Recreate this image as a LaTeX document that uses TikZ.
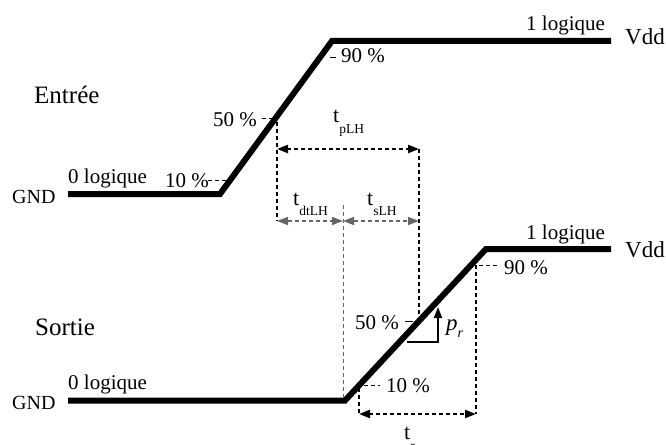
\documentclass[tikz,border=0pt]{standalone}
\usepackage{fontspec}
\setmainfont{Liberation Serif}
\usetikzlibrary{arrows.meta}
\begin{document}
\begin{tikzpicture}[x=1pt,y=-1pt,
  sig/.style={line width=6pt,line join=miter},
  lab/.style={inner sep=0pt,anchor=base west,font=\fontsize{21}{21}\selectfont},
  big/.style={inner sep=0pt,anchor=base west,font=\fontsize{25}{25}\selectfont},
  thin/.style={line width=1pt,dash pattern=on 4pt off 3pt},
  graythin/.style={line width=1pt,dash pattern=on 4pt off 3pt,draw=black!60},
  dots/.style={line width=2.2pt,dash pattern=on 4pt off 3pt},
  tip/.style={-{Triangle[length=11pt,width=8pt]}},
  tips/.style={{Triangle[length=11pt,width=8pt]}-{Triangle[length=11pt,width=8pt]}}]
\useasboundingbox (0,0) rectangle (666,444);
% input signal
\coordinate (i0) at (68,194);
\coordinate (i1) at (220,194);
\coordinate (i2) at (332,41);
\coordinate (i3) at (611,41);
\draw[sig] (i0) -- (i1) -- (i2) -- (i3);
% output signal
\coordinate (o0) at (68,400.5);
\coordinate (o1) at (345,400.5);
\coordinate (o2) at (486,249);
\coordinate (o3) at (611,249);
\draw[sig] (o0) -- (o1) -- (o2) -- (o3);
% labels
\node[big] (entree) at (34,103) {Entrée};
\node[big] (sortie) at (35,335) {Sortie};
\node[lab,font=\fontsize{20}{20}\selectfont] (gnd1) at (12,203) {GND};
\node[lab,font=\fontsize{20}{20}\selectfont] (gnd2) at (12,409) {GND};
\node[lab,font=\fontsize{23}{23}\selectfont] (vdd1) at (625,45) {Vdd};
\node[lab,font=\fontsize{23}{23}\selectfont] (vdd2) at (625,257) {Vdd};
\node[lab] (zero1) at (68,183) {0 logique};
\node[lab] (zero2) at (68,389) {0 logique};
\node[lab] (one1) at (526,31) {1 logique};
\node[lab] (one2) at (526,239) {1 logique};
\node[lab] (p10i) at (165,187) {10 \%};
\node[lab] (p50i) at (213,126) {50 \%};
\node[lab] (p90i) at (341,63) {90 \%};
\node[lab] (p50o) at (355,329) {50 \%};
\node[lab] (p10o) at (386,392) {10 \%};
\node[lab] (p90o) at (504,274) {90 \%};
% ticks
\coordinate (t10a) at (208,180); \coordinate (t10b) at (228,180);
\draw[thin] (t10a) -- (t10b);
\coordinate (t50a) at (262,118); \coordinate (t50b) at (274,118);
\draw[thin] (t50a) -- (t50b);
\coordinate (t90a) at (330,58); \coordinate (t90b) at (336,58);
\draw[line width=1pt] (t90a) -- (t90b);
\coordinate (u50a) at (405,321); \coordinate (u50b) at (413,321);
\draw[line width=1pt] (u50a) -- (u50b);
\coordinate (u10a) at (364,385); \coordinate (u10b) at (380,385);
\draw[thin] (u10a) -- (u10b);
\coordinate (u90a) at (479,265); \coordinate (u90b) at (499,265);
\draw[thin] (u90a) -- (u90b);
% timing construction
\coordinate (a50) at (277,122);
\coordinate (aT) at (277,149);
\coordinate (aB) at (277,221);
\coordinate (bT) at (419,149);
\coordinate (bM) at (419,221);
\coordinate (bB) at (419,316);
\coordinate (mT) at (343,205);
\coordinate (mM) at (343,221);
\coordinate (mB) at (343,398);
\draw[line width=1.3pt,dash pattern=on 4pt off 3pt] (a50) -- (aB);
\draw[dots] (bT) -- (bB);
\draw[graythin] (mT) -- (mB);
\draw[dots,tips] (aT) -- (bT);
\draw[graythin,tips,line width=1.5pt] (aB) -- (mM);
\draw[graythin,tips,line width=1.5pt] (mM) -- (bM);
\node[inner sep=0pt,anchor=base west] (tplh) at (333,122) {\fontsize{22}{22}\selectfont t\raisebox{-11pt}{\fontsize{13.5}{13.5}\selectfont pLH}};
\node[inner sep=0pt,anchor=base west] (tdt) at (293,205) {\fontsize{22}{22}\selectfont t\raisebox{-10pt}{\fontsize{13.5}{13.5}\selectfont dtLH}};
\node[inner sep=0pt,anchor=base west] (ts) at (367,205) {\fontsize{22}{22}\selectfont t\raisebox{-10pt}{\fontsize{13.5}{13.5}\selectfont sLH}};
% rise time
\coordinate (rL) at (359,388);
\coordinate (rLB) at (359,414);
\coordinate (rR) at (476,265);
\coordinate (rRB) at (476,414);
\draw[dots] (rL) -- (rLB);
\draw[dots] (rR) -- (rRB);
\draw[dots,tips] (rLB) -- (rRB);
\node[inner sep=0pt,anchor=base west] (tr) at (404,439) {\fontsize{22}{22}\selectfont t\raisebox{-11pt}{\fontsize{13.5}{13.5}\selectfont r}};
% slope
\coordinate (s0) at (407,342);
\coordinate (s1) at (438,342);
\coordinate (s2) at (438,307);
\draw[line width=1.8pt,tip] (s0) -- (s1) -- (s2);
\node[inner sep=0pt,anchor=base west] (pr) at (446,330) {\fontsize{23}{23}\selectfont\itshape p\raisebox{-7pt}{\fontsize{14}{14}\selectfont r}};
\end{tikzpicture}
\end{document}
